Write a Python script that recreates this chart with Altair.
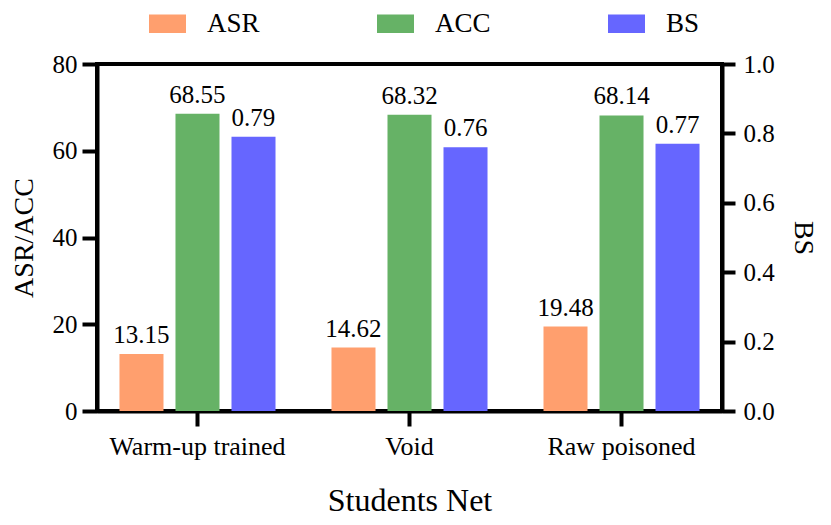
import altair as alt
import pandas as pd

groups = ["Warm-up trained", "Void", "Raw poisoned"]
metrics = ["ASR", "ACC", "BS"]
asr = [13.15, 14.62, 19.48]
acc = [68.55, 68.32, 68.14]
bs = [0.79, 0.76, 0.77]
colors = ["#FF9F6E", "#66B266", "#6666FF"]
left_ticks = [0, 20, 40, 60, 80]
right_ticks = [0.0, 0.2, 0.4, 0.6, 0.8, 1.0]

rows = []
for g, a, c, b in zip(groups, asr, acc, bs):
    rows.append({"group": g, "metric": "ASR", "value": a})
    rows.append({"group": g, "metric": "ACC", "value": c})
    rows.append({"group": g, "metric": "BS", "value": b})
df = pd.DataFrame(rows)

FONT = "Liberation Serif"

x_enc = alt.X("group:N", sort=groups,
              scale=alt.Scale(domain=groups, paddingInner=0.264, paddingOuter=0.106),
              axis=alt.Axis(title="Students Net", labelAngle=0, tickSize=15, labelPadding=7,
                            titlePadding=26, titleFontSize=32, labelFontSize=26,
                            labelFont=FONT, titleFont=FONT))
xo_enc = alt.XOffset("metric:N", sort=metrics,
                     scale=alt.Scale(domain=metrics, paddingInner=0.214, paddingOuter=0))
color_enc = alt.Color("metric:N", sort=metrics,
                      scale=alt.Scale(domain=metrics, range=colors),
                      legend=alt.Legend(title=None, orient="none", direction="horizontal",
                                        legendX=52, legendY=-59,
                                        symbolType="M-1,-0.5H1V0.5H-1Z", symbolSize=1369,
                                        symbolStrokeWidth=0, symbolOpacity=1,
                                        labelFontSize=27, labelFont=FONT, labelColor="black",
                                        labelOffset=21, columnPadding=117, padding=0))

base = alt.Chart(df)

left_bars = base.transform_filter(alt.datum.metric != "BS").mark_bar().encode(
    x=x_enc, xOffset=xo_enc, color=color_enc,
    y=alt.Y("value:Q", scale=alt.Scale(domain=[0, 80]),
            axis=alt.Axis(title="ASR/ACC", values=left_ticks, tickSize=15, labelPadding=5,
                          titlePadding=14, titleFontSize=28, labelFontSize=25, grid=False,
                          labelFont=FONT, titleFont=FONT)),
)
left_text = base.transform_filter(alt.datum.metric != "BS").mark_text(
    baseline="alphabetic", dy=-11, fontSize=25, font=FONT, color="black"
).encode(
    x=alt.X("group:N", sort=groups), xOffset=alt.XOffset("metric:N", sort=metrics),
    y=alt.Y("value:Q"), text=alt.Text("value:Q", format=".2f"),
)
right_bars = base.transform_filter(alt.datum.metric == "BS").mark_bar().encode(
    x=alt.X("group:N", sort=groups), xOffset=alt.XOffset("metric:N", sort=metrics),
    color=alt.Color("metric:N", sort=metrics, legend=None),
    y=alt.Y("value:Q", scale=alt.Scale(domain=[0, 1]),
            axis=alt.Axis(title="BS", orient="right", values=right_ticks, format=".1f",
                          tickSize=13, labelPadding=8, titlePadding=14, titleFontSize=28,
                          labelFontSize=25, grid=False, labelFont=FONT, titleFont=FONT)),
)
right_text = base.transform_filter(alt.datum.metric == "BS").mark_text(
    baseline="alphabetic", dy=-11, fontSize=25, font=FONT, color="black"
).encode(
    x=alt.X("group:N", sort=groups), xOffset=alt.XOffset("metric:N", sort=metrics),
    y=alt.Y("value:Q"), text=alt.Text("value:Q", format=".2f"),
)

left = alt.layer(left_bars, left_text)
right = alt.layer(right_bars, right_text)

chart = alt.layer(left, right).resolve_scale(y="independent").properties(
    width=625, height=347,
    autosize=alt.AutoSizeParams(type="none"),
    padding={"left": 89, "top": 56, "right": 101, "bottom": 106},
).configure_view(
    stroke="black", strokeWidth=4
).configure_axis(
    domainColor="black", domainWidth=4, tickColor="black", tickWidth=4,
    labelFont=FONT, titleFont=FONT, labelColor="black", titleColor="black",
    titleFontWeight="normal", grid=False
)

chart.save("out.html", embed_options={"renderer": "svg", "actions": False})
